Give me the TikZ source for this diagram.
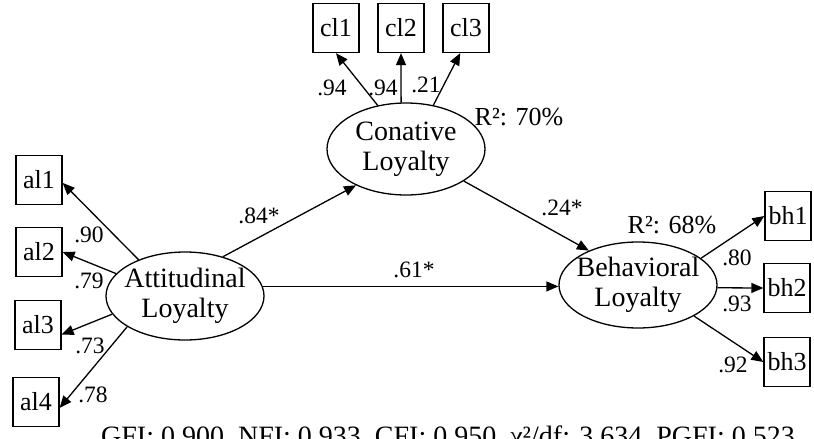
\documentclass[tikz,border=0pt]{standalone}
\usepackage{fontspec}
\setmainfont{Liberation Serif}
\usetikzlibrary{arrows.meta,shapes.geometric}
\begin{document}
\begin{tikzpicture}[x=1pt,y=-1pt,
  lv/.style={draw,ellipse,line width=1.3pt,minimum width=158pt,inner sep=0pt},
  ind/.style={draw,rectangle,line width=1.3pt,minimum width=46pt,minimum height=49pt,inner sep=0pt,font=\fontsize{26}{30}\selectfont},
  lvtext/.style={align=center,inner sep=0pt,font=\fontsize{28}{30}\selectfont},
  arr/.style={line width=1.3pt,-{Triangle[length=12pt,width=10pt]}},
  coef/.style={anchor=base,inner sep=0pt,font=\fontsize{23.5}{26}\selectfont},
  rsq/.style={anchor=base,inner sep=0pt,font=\fontsize{26}{28}\selectfont}]
\useasboundingbox (0,0) rectangle (814,439);

% latent variables
\node[lv,minimum height=88pt,label={[lvtext]center:Attitudinal\\Loyalty}] (att) at (185,296) {};
\node[lv,minimum height=92pt,label={[lvtext]center:Conative\\Loyalty}] (con) at (406,149) {};
\node[lv,minimum height=86pt,label={[lvtext]center:Behavioral\\Loyalty}] (beh) at (638,285) {};

% indicators
\node[ind] (al1) at (39,180) {al1};
\node[ind] (al2) at (39,252) {al2};
\node[ind] (al3) at (38,325) {al3};
\node[ind] (al4) at (36,402) {al4};
\node[ind] (cl1) at (336,28) {cl1};
\node[ind] (cl2) at (401,28) {cl2};
\node[ind] (cl3) at (466,28) {cl3};
\node[ind] (bh1) at (788,216) {bh1};
\node[ind] (bh2) at (787,288) {bh2};
\node[ind] (bh3) at (787,362) {bh3};

% connectors
\draw[arr] (att.142) -- (al1.-7);
\draw[arr] (att.162) -- (al2.east);
\draw[arr] (att.194) -- (al3.-22);
\draw[arr] (att.208) -- (al4.-14);
\draw[arr] (att.46) -- (con.216);
\draw[arr] (att.7) -- (att.7 -| beh.west);
\draw[arr] (con.-29) -- (beh.145);
\draw[arr] (con.123) -- (cl1.south);
\draw[arr] (con.96) -- (cl2.south);
\draw[arr] (con.58) -- (cl3.257);
\draw[arr] (beh.23) -- (bh1.west);
\draw[arr] (beh.-2) -- (bh2.west);
\draw[arr] (beh.-29) -- (bh3.west);

% coefficients
\node[coef] (k1) at (89,242) {.90};
\node[coef] (k2) at (89,288) {.79};
\node[coef] (k3) at (90,353) {.73};
\node[coef] (k4) at (93,402) {.78};
\node[coef] (k5) at (259,223) {.84*};
\node[coef] (k6) at (414,277) {.61*};
\node[coef] (k7) at (562,215) {.24*};
\node[coef] (k8) at (332,95) {.94};
\node[coef] (k9) at (383,95) {.94};
\node[coef] (k10) at (426,92) {.21};
\node[coef] (k11) at (737,265) {.80};
\node[coef] (k12) at (737,311) {.93};
\node[coef] (k13) at (733,372) {.92};

% R squared
\node[rsq] (r1) at (519,125) {R²: 70\%};
\node[rsq] (r2) at (672,233) {R²: 68\%};

% fit indices
\node[anchor=base,inner sep=0pt,font=\fontsize{28}{30}\selectfont] (fit) at (448,445) {GFI: 0.900, NFI: 0.933, CFI: 0.950, χ²/df: 3.634, PGFI: 0.523};
\end{tikzpicture}
\end{document}
